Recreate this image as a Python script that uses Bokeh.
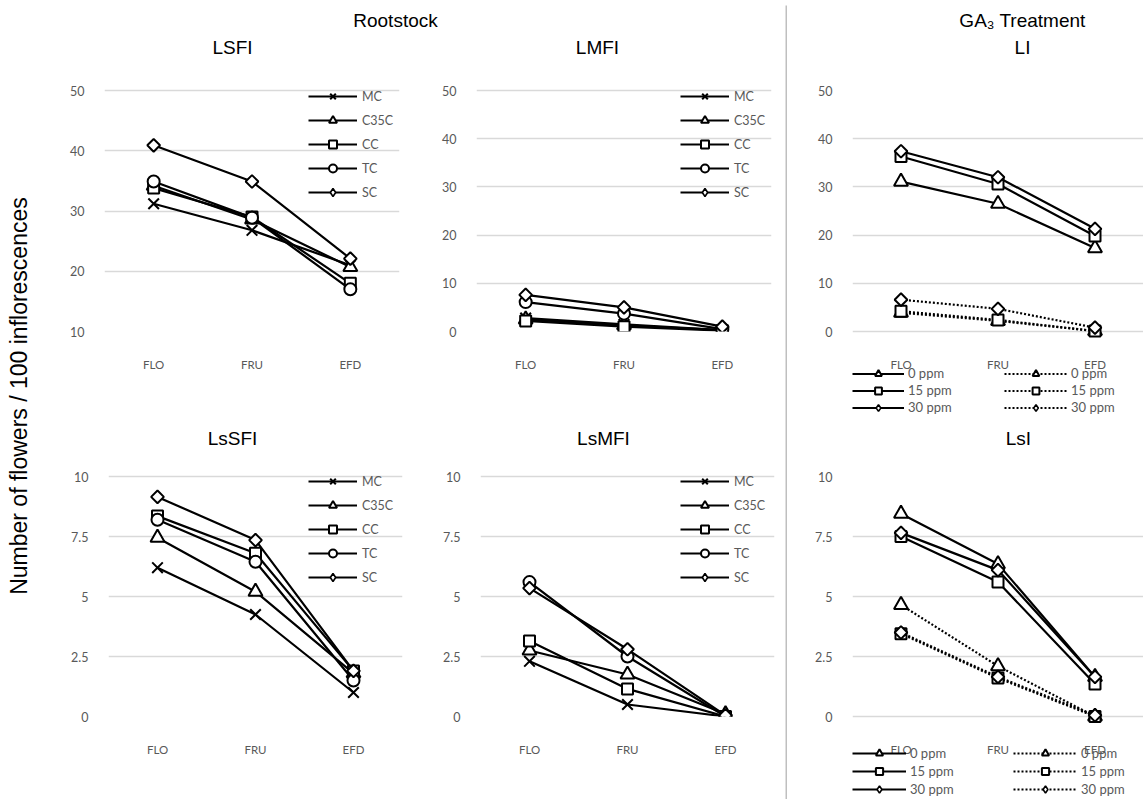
import math
from bokeh.plotting import figure
from bokeh.layouts import row, column
from bokeh.models import Range1d, FixedTicker, Legend, LegendItem, FactorRange, CustomJSTickFormatter
from bokeh.embed import file_html
from bokeh.resources import INLINE
from bokeh.core.properties import value

# ---------------- data ----------------
stages = ["FLO", "FRU", "EFD"]
rootstocks = ["MC", "C35C", "CC", "TC", "SC"]
doses = ["0 ppm", "15 ppm", "30 ppm"]

# LSFI
lsfi_mc = [31.2, 26.8, 21.0]
lsfi_c35c = [34.2, 28.6, 20.7]
lsfi_cc = [33.8, 29.0, 18.0]
lsfi_tc = [34.9, 28.9, 17.0]
lsfi_sc = [40.9, 34.9, 22.1]
# LMFI
lmfi_mc = [2.8, 1.5, 0.3]
lmfi_c35c = [2.5, 1.3, 0.3]
lmfi_cc = [2.2, 1.0, 0.2]
lmfi_tc = [6.1, 3.7, 0.5]
lmfi_sc = [7.6, 5.0, 1.0]
# LsSFI
lssfi_mc = [6.2, 4.25, 1.0]
lssfi_c35c = [7.45, 5.2, 1.8]
lssfi_cc = [8.35, 6.8, 1.9]
lssfi_tc = [8.2, 6.45, 1.5]
lssfi_sc = [9.15, 7.35, 1.9]
# LsMFI
lsmfi_mc = [2.3, 0.5, 0.0]
lsmfi_c35c = [2.75, 1.75, 0.1]
lsmfi_cc = [3.15, 1.15, 0.0]
lsmfi_tc = [5.6, 2.5, 0.0]
lsmfi_sc = [5.35, 2.8, 0.05]
# LI (GA3): solid and dotted series
li_solid_0 = [31.1, 26.5, 17.3]
li_solid_15 = [36.3, 30.6, 19.8]
li_solid_30 = [37.4, 32.0, 21.3]
li_dot_0 = [3.9, 2.2, 0.1]
li_dot_15 = [4.2, 2.4, 0.1]
li_dot_30 = [6.6, 4.7, 0.8]
# LsI (GA3)
lsi_solid_0 = [8.45, 6.35, 1.65]
lsi_solid_15 = [7.5, 5.6, 1.35]
lsi_solid_30 = [7.65, 6.1, 1.65]
lsi_dot_0 = [4.65, 2.1, 0.0]
lsi_dot_15 = [3.45, 1.6, 0.0]
lsi_dot_30 = [3.5, 1.65, 0.05]

top_ticks = [0, 10, 20, 30, 40, 50]
lsfi_ticks = [10, 20, 30, 40, 50]
bottom_ticks = [0, 2.5, 5, 7.5, 10]

# ---------------- style ----------------
TICK_FONT = "Lato"
TITLE_FONT = "Liberation Sans"
GRAY = "#595959"
GRID = "#d9d9d9"

ROOT_MARK = {"MC": ("x", 15), "C35C": ("triangle", 14), "CC": ("square", 11),
             "TC": ("circle", 12), "SC": ("diamond", 9)}
DOSE_MARK = {"0 ppm": ("triangle", 14), "15 ppm": ("square", 11), "30 ppm": ("diamond", 9)}


def panel(W, H, L, R, T, B, ymin, ymax, ticks, value_px, ext_top):
    # the frame may extend beyond the value span (ext_top px above, rest below)
    span = ymax - ymin
    frame_px = H - T - B
    ext_bottom = frame_px - value_px - ext_top
    y_start = ymin - ext_bottom * span / value_px
    y_end = ymax + ext_top * span / value_px
    p = figure(x_range=FactorRange(*stages), y_range=Range1d(y_start, y_end),
               width=W, height=H, min_border_left=L, min_border_right=R,
               min_border_top=T, min_border_bottom=B,
               toolbar_location=None, tools="", output_backend="svg")
    p.outline_line_color = None
    p.background_fill_color = "white"
    p.border_fill_color = "white"
    p.xgrid.grid_line_color = None
    p.ygrid.grid_line_color = GRID
    p.ygrid.grid_line_width = 1.5
    p.yaxis.ticker = FixedTicker(ticks=ticks)
    p.yaxis.formatter = CustomJSTickFormatter(code="return String(tick)")
    for ax in (p.xaxis[0], p.yaxis[0]):
        ax.axis_line_color = None
        ax.major_tick_line_color = None
        ax.minor_tick_line_color = None
        ax.major_tick_out = 0
        ax.major_tick_in = 0
        ax.major_label_text_color = GRAY
        ax.major_label_text_font = TICK_FONT
    p.yaxis.major_label_text_font_size = "12.5px"
    p.xaxis.major_label_text_font_size = "11.5px"
    p.yaxis.major_label_standoff = 20
    p.xaxis.major_label_standoff = 26
    if ext_bottom > 0:
        p.xaxis.fixed_location = ymin
    return p


def add_series(p, ys, marker, size, dash="solid"):
    r_line = p.line(x=stages, y=ys, line_color="black", line_width=2.2, line_dash=dash)
    if marker == "diamond":
        p.scatter(x=stages, y=ys, marker="square", angle=math.pi / 4, size=size,
                  fill_color="white", line_color="black", line_width=2)
        r_leg = p.scatter(x=[stages[0]], y=[float("nan")], marker="diamond", size=8,
                          fill_color="white", line_color="black", line_width=1.6)
    else:
        r_leg = p.scatter(x=stages, y=ys, marker=marker, size=size,
                          fill_color="white", line_color="black", line_width=2)
    return [r_line, r_leg]


def root_panel(W, H, L, R, T, B, ymin, ymax, ticks, value_px, series, leg_loc):
    p = panel(W, H, L, R, T, B, ymin, ymax, ticks, value_px, 10)
    items = []
    for name, ys in zip(rootstocks, series):
        m, s = ROOT_MARK[name]
        rs = add_series(p, ys, m, s)
        items.append(LegendItem(label=name, renderers=rs))
    leg = Legend(items=items, location=leg_loc, glyph_width=49, glyph_height=20,
                 label_height=20, spacing=4, label_standoff=5, padding=0, margin=0,
                 border_line_color=None, background_fill_alpha=0,
                 label_text_font=TICK_FONT, label_text_font_size="12.5px",
                 label_text_color=GRAY)
    p.add_layout(leg)
    return p


def dose_panel(W, H, L, T, ymin, ymax, ticks, value_px, solid, dotted,
               vy, vx_solid, gw_solid, vx_dot, gw_dot, gh):
    p = panel(W, H, L, 0, T, 0, ymin, ymax, ticks, value_px, 0)
    items_s, items_d = [], []
    for name, ys in zip(doses, solid):
        m, s = DOSE_MARK[name]
        items_s.append(LegendItem(label=name, renderers=add_series(p, ys, m, s)))
    for name, ys in zip(doses, dotted):
        m, s = DOSE_MARK[name]
        items_d.append(LegendItem(label=name, renderers=add_series(p, ys, m, s, dash="2 2")))
    for items, vx, gw in ((items_s, vx_solid, gw_solid), (items_d, vx_dot, gw_dot)):
        leg = Legend(items=items, location=(vx, vy),
                     glyph_width=gw, glyph_height=gh, label_height=gh,
                     spacing=0, label_standoff=4, padding=0, margin=0,
                     border_line_color=None, background_fill_alpha=0,
                     label_text_font=TICK_FONT, label_text_font_size="13px",
                     label_text_color=GRAY)
        p.add_layout(leg)
    return p


def canvas(W, H):
    p = figure(width=W, height=H, x_range=Range1d(0, W), y_range=Range1d(0, H),
               min_border=0, toolbar_location=None, tools="", output_backend="svg",
               x_axis_location=None, y_axis_location=None)
    p.grid.visible = False
    p.outline_line_color = None
    p.background_fill_color = "white"
    p.border_fill_color = "white"
    return p


def put_text(p, H, xs, tops, texts, size="19px", angle=0.0):
    p.text(x=xs, y=[H - t for t in tops], text=texts, angle=angle,
           text_font=value(TITLE_FONT), text_font_size=value(size),
           text_align="center", text_baseline="middle", text_color="black")


# ---------------- figures ----------------
# y-axis label strip
ylab = canvas(40, 799)
put_text(ylab, 799, [18], [393], ["Number of flowers / 100 inflorescences"], size="23px",
         angle=math.pi / 2)

# headers
hdr_lt = canvas(745, 60)
put_text(hdr_lt, 60, [355, 192, 557], [20, 47, 47], ["Rootstock", "LSFI", "LMFI"])
hdr_lb = canvas(745, 40)
put_text(hdr_lb, 40, [192, 563], [18, 18], ["LsSFI", "LsMFI"])
hdr_rt = canvas(356, 60)
put_text(hdr_rt, 60, [208, 208], [20, 47], ["GA\u2083 Treatment", "LI"])
hdr_rb = canvas(356, 40)
put_text(hdr_rb, 40, [203], [18], ["LsI"])

# panels
p_lsfi = root_panel(374, 360, 64, 15, 20, 89, 10, 50, lsfi_ticks, 241,
                    [lsfi_mc, lsfi_c35c, lsfi_cc, lsfi_tc, lsfi_sc], (204, 129))
p_lmfi = root_panel(371, 360, 62, 14, 20, 89, 0, 50, top_ticks, 241,
                    [lmfi_mc, lmfi_c35c, lmfi_cc, lmfi_tc, lmfi_sc], (204, 129))
p_lssfi = root_panel(374, 339, 68, 12, 6, 83, 0, 10, bottom_ticks, 240,
                     [lssfi_mc, lssfi_c35c, lssfi_cc, lssfi_tc, lssfi_sc], (200, 129))
p_lsmfi = root_panel(371, 339, 66, 11, 6, 83, 0, 10, bottom_ticks, 240,
                     [lsmfi_mc, lsmfi_c35c, lsmfi_cc, lsmfi_tc, lsmfi_sc], (200, 129))
p_li = dose_panel(356, 360, 61, 30, 0, 50, top_ticks, 241,
                  [li_solid_0, li_solid_15, li_solid_30], [li_dot_0, li_dot_15, li_dot_30],
                  4.5, 0, 52, 152, 63, 17)
p_lsi = dose_panel(356, 339, 65, 16, 0, 10, bottom_ticks, 240,
                   [lsi_solid_0, lsi_solid_15, lsi_solid_30], [lsi_dot_0, lsi_dot_15, lsi_dot_30],
                   1, 0, 54, 161, 64, 18)

# vertical separator
sep = figure(width=2, height=799, x_range=Range1d(0, 1), y_range=Range1d(0, 1),
             min_border=0, min_border_top=5, toolbar_location=None, tools="",
             output_backend="svg", x_axis_location=None, y_axis_location=None)
sep.grid.visible = False
sep.outline_line_color = None
sep.background_fill_color = "#bfbfbf"
sep.border_fill_color = "white"

left_block = column(hdr_lt, row(p_lsfi, p_lmfi), hdr_lb, row(p_lssfi, p_lsmfi))
right_block = column(hdr_rt, p_li, hdr_rb, p_lsi)
layout = row(ylab, left_block, sep, right_block)

open("out.html", "w").write(file_html(layout, INLINE))
